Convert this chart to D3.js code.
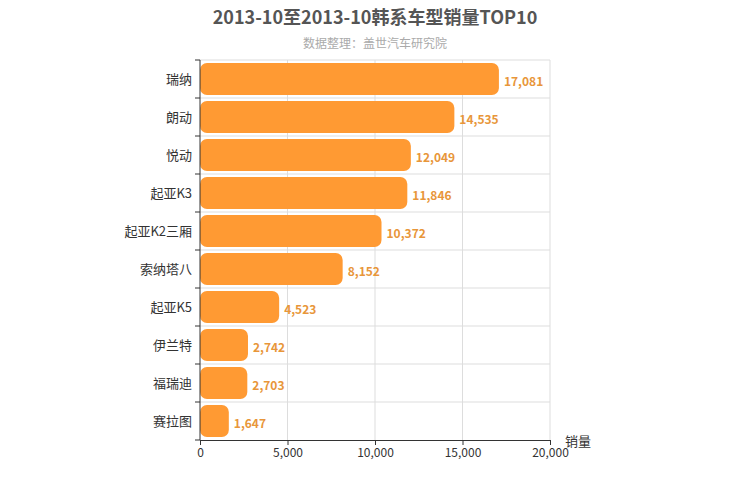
<!DOCTYPE html>
<html><head><meta charset="utf-8">
<script src="https://cdn.jsdelivr.net/npm/d3@7"></script>
<style>body{margin:0;background:#fff}text{font-family:"Microsoft YaHei","Noto Sans CJK SC",sans-serif}</style>
</head><body><svg id="c" width="750" height="500"></svg>
<script>
var categories=["瑞纳","朗动","悦动","起亚K3","起亚K2三厢","索纳塔八","起亚K5","伊兰特","福瑞迪","赛拉图"];
var sales=[17081,14535,12049,11846,10372,8152,4523,2742,2703,1647];
var xTicks=[0,5000,10000,15000,20000];
var pLeft=200,pRight=550,pTop=60,pBottom=440;
var svg=d3.select("#c");
var x=d3.scaleLinear().domain([0,20000]).range([pLeft,pRight]);
var y=d3.scaleBand().domain(categories).range([pTop,pBottom]).paddingInner(0.16).paddingOuter(0.08);
var step=(pBottom-pTop)/categories.length;
svg.append("text").attr("x",375).attr("y",24).attr("text-anchor","middle").attr("font-size",18).attr("font-weight","bold").attr("fill","#555").text("2013-10至2013-10韩系车型销量TOP10");
svg.append("text").attr("x",375).attr("y",48).attr("text-anchor","middle").attr("font-size",12).attr("fill","#aaa").text("数据整理：盖世汽车研究院");
// grid
svg.selectAll("line.gx").data(xTicks.slice(1)).enter().append("line").attr("x1",d=>x(d)).attr("x2",d=>x(d)).attr("y1",pTop).attr("y2",pBottom).attr("stroke","#ddd");
svg.selectAll("line.gy").data(d3.range(categories.length)).enter().append("line").attr("x1",pLeft).attr("x2",pRight).attr("y1",d=>pTop+d*step).attr("y2",d=>pTop+d*step).attr("stroke","#ddd");
// bars
svg.selectAll("rect.b").data(sales).enter().append("rect").attr("x",pLeft).attr("y",(d,i)=>y(categories[i])).attr("width",d=>x(d)-pLeft).attr("height",y.bandwidth()).attr("rx",7).attr("fill","#ff9a33");
svg.selectAll("text.v").data(sales).enter().append("text").attr("x",d=>x(d)+5).attr("y",(d,i)=>y(categories[i])+y.bandwidth()/2+7).attr("font-size",12).attr("font-weight","bold").attr("fill","#e8963a").text(d=>d3.format(",")(d));
// axes
var ya=svg.append("g").attr("transform","translate("+pLeft+",0)").call(d3.axisLeft(d3.scalePoint().domain(categories).range([pTop+step/2,pBottom-step/2])).tickSize(0).tickPadding(8));
ya.select(".domain").remove();
ya.selectAll("text").attr("font-size",13).attr("fill","#333");
svg.selectAll("line.yt").data(d3.range(categories.length+1)).enter().append("line").attr("x1",pLeft-5).attr("x2",pLeft).attr("y1",d=>pTop+d*step).attr("y2",d=>pTop+d*step).attr("stroke","#333");
svg.append("line").attr("x1",pLeft).attr("x2",pLeft).attr("y1",pTop).attr("y2",pBottom).attr("stroke","#333");
var xa=svg.append("g").attr("transform","translate(0,"+pBottom+")").call(d3.axisBottom(x).tickValues(xTicks).tickFormat(d3.format(",")).tickSize(5));
xa.select(".domain").attr("stroke","#333");
xa.selectAll("line").attr("stroke","#333");
xa.selectAll("text").attr("font-size",12).attr("fill","#333");
svg.append("text").attr("x",565).attr("y",446).attr("font-size",13).attr("fill","#333").text("销量");
</script></body></html>
